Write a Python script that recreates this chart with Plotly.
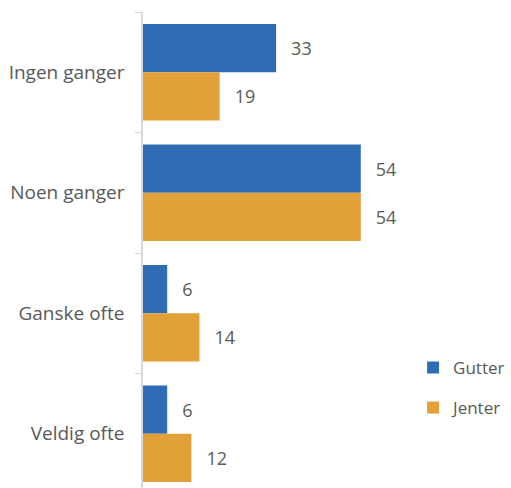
import plotly.graph_objects as go

categories = ["Ingen ganger", "Noen ganger", "Ganske ofte", "Veldig ofte"]
gutter = [33, 54, 6, 6]
jenter = [19, 54, 14, 12]
series_names = ["Gutter", "Jenter"]
colors = ["#2E6DB4", "#E1A038"]

font_family = "Open Sans, Liberation Sans, Arial, sans-serif"
txt_color = "#595959"

fig = go.Figure()
for name, vals, col in zip(series_names, [gutter, jenter], colors):
    fig.add_trace(go.Bar(
        y=categories, x=vals, name=name, orientation="h",
        marker=dict(color=col, line=dict(width=0)),
        texttemplate="\u2002\u2009%{x}", textposition="outside",
        textfont=dict(size=18, color=txt_color, family=font_family),
        cliponaxis=False, legendgroup=name,
    ))

fig.update_layout(
    width=511, height=488,
    margin=dict(l=143, r=126, t=12, b=0, autoexpand=False),
    barmode="group", bargap=0.2, bargroupgap=0,
    plot_bgcolor="white", paper_bgcolor="white",
    font=dict(family=font_family, color=txt_color, size=18),
    legend=dict(x=1.116, xanchor="left", y=0.29, yanchor="top",
                font=dict(size=17, color=txt_color),
                traceorder="grouped", tracegroupgap=15,
                itemwidth=30),
    showlegend=True,
)
fig.update_xaxes(range=[0, 60], visible=False, showgrid=False, zeroline=False)
fig.update_yaxes(
    autorange=False, range=[3.45, -0.5], type="category",
    showline=True, linecolor="#D9D9D9", linewidth=1.5,
    ticks="outside", tickson="boundaries", ticklen=6, tickcolor="#D9D9D9",
    tickfont=dict(size=19, color=txt_color), ticklabelstandoff=13,
    showgrid=False, zeroline=False, automargin=False,
)
fig.write_html("out.html", config={"displayModeBar": False},
               post_script="document.body.style.margin='0';document.body.style.padding='0';")
